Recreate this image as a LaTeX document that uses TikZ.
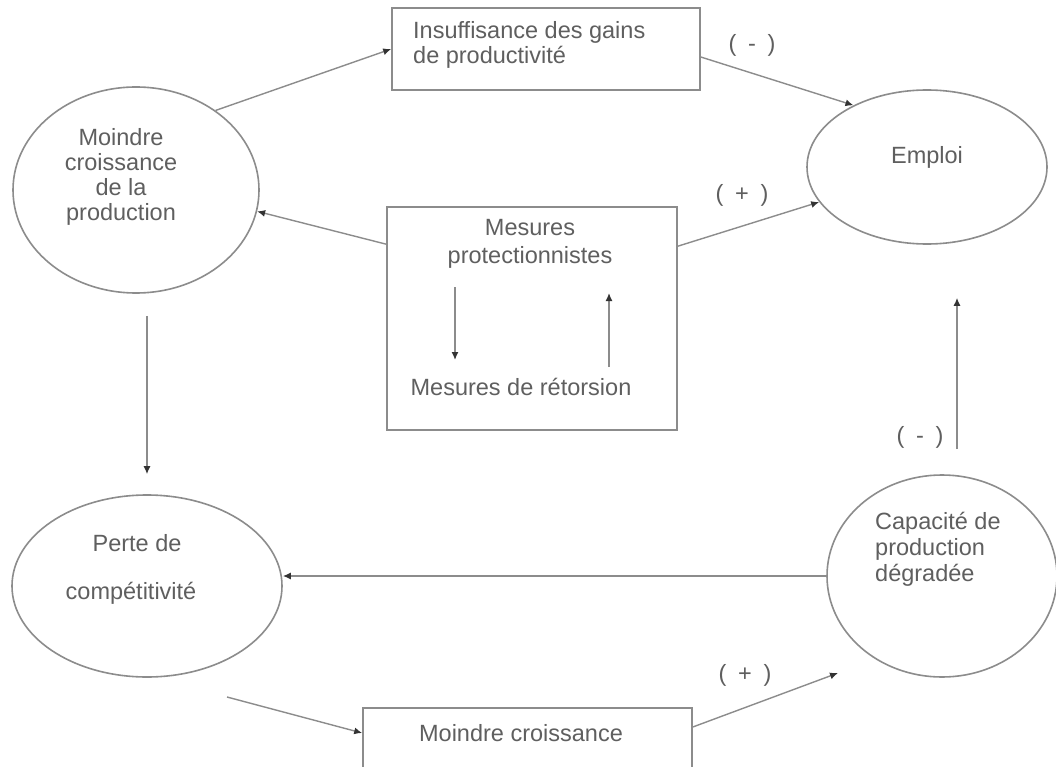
\documentclass[tikz,border=0pt]{standalone}
\usepackage{fontspec}
\setmainfont{Liberation Sans}
\usetikzlibrary{shapes.geometric,arrows.meta}
\definecolor{ln}{HTML}{8C8C8C}
\definecolor{tx}{HTML}{5F5F5F}
\definecolor{tp}{HTML}{333333}
\begin{document}
\begin{tikzpicture}[x=1pt,y=-1pt,
  every node/.style={font=\fontsize{23.5}{25}\selectfont, text=tx},
  oval/.style={draw=ln, line width=1.6pt, ellipse, inner sep=0pt},
  box/.style={draw=ln, line width=1.6pt, rectangle, inner sep=0pt},
  lbl/.style={inner sep=0pt},
  arr/.style={draw=ln, line width=1.4pt, -{Latex[length=8pt,width=7pt,color=tp]}},
]
\clip (0,0) rectangle (1056,767);
\fill[white] (0,0) rectangle (1056,767);

% ellipses
\node[oval, minimum width=246pt, minimum height=206pt] (moindre) at (136,190) {};
\node[lbl, align=center] (tmoindre) at (121,177) {Moindre\\croissance\\de la\\production};

\node[oval, minimum width=240pt, minimum height=154pt] (emploi) at (927,167) {};
\node[lbl] (temploi) at (927,157) {Emploi};

\node[oval, minimum width=270pt, minimum height=182pt] (perte) at (147,586) {};
\node[lbl] (tperte1) at (137,543) {Perte de};
\node[lbl] (tperte2) at (131,593) {compétitivité};

\node[oval, minimum width=230pt, minimum height=202pt] (capa) at (942,576) {};
\node[lbl, anchor=west, align=left, font=\fontsize{23.5}{26}\selectfont] (tcapa) at (875,549) {Capacité de\\production\\dégradée};

% boxes
\node[box, minimum width=308pt, minimum height=82pt] (top) at (546,49) {};
\node[lbl, anchor=west, align=left] (ttop) at (413,45) {Insuffisance des gains\\de productivité};

\node[box, minimum width=290pt, minimum height=223pt] (mid) at (532,318.5) {};
\node[lbl, align=center, font=\fontsize{23.5}{28}\selectfont] (prot) at (530,244) {Mesures\\protectionnistes};
\node[lbl] (ret) at (521,387) {Mesures de rétorsion};

\node[box, minimum width=329pt, minimum height=82pt] (bot) at (527.5,749) {};
\node[lbl] (tbot) at (521,733) {Moindre croissance};

% sign labels
\node[lbl] (s1) at (752,45) {(\enspace-\enspace)};
\node[lbl] (s2) at (742,195) {(\enspace+\enspace)};
\node[lbl] (s3) at (920,437) {(\enspace-\enspace)};
\node[lbl] (s4) at (745,675) {(\enspace+\enspace)};

% helper coordinates
\coordinate (d1) at (455,287);
\coordinate (d2) at (455,360);
\coordinate (u1) at (609,367);
\coordinate (u2) at (609,293);
\coordinate (p0) at (227,697);
\coordinate (c0) at (838,673);

% connectors
\draw[arr] (moindre.45) -- (top.west);
\draw[arr] ([yshift=-8pt]top.east) -- (emploi.140);
\draw[arr] ([yshift=-38pt]mid.north west) -- (moindre.-10);
\draw[arr] ([yshift=-40pt]mid.north east) -- (emploi.198);
\draw[arr] (d1) -- (d2);
\draw[arr] (u1) -- (u2);
\draw[arr, shorten <=22pt, shorten >=20pt] (moindre.south -| perte.north) -- (perte.north);
\draw[arr] (capa.west) -- (capa.west -| perte.east);
\draw[arr] ([xshift=15pt,yshift=25pt]capa.north) -- ([xshift=30pt,yshift=-53pt]emploi.south);
\draw[arr] (p0) -- ([yshift=16pt]bot.west);
\draw[arr] ([yshift=22pt]bot.east) -- (c0);
\end{tikzpicture}
\end{document}
